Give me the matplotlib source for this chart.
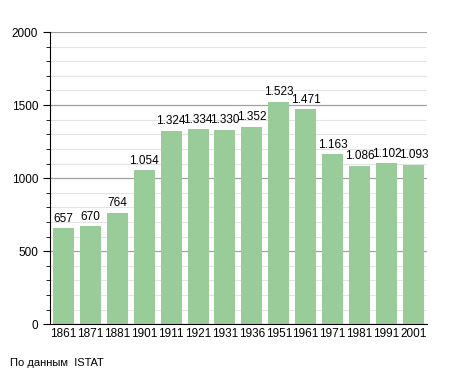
import matplotlib.pyplot as plt
from matplotlib.ticker import MultipleLocator

years = ['1861', '1871', '1881', '1901', '1911', '1921', '1931',
         '1936', '1951', '1961', '1971', '1981', '1991', '2001']
population = [657, 670, 764, 1054, 1324, 1334, 1330,
              1352, 1523, 1471, 1163, 1086, 1102, 1093]
labels = ['657', '670', '764', '1.054', '1.324', '1.334', '1.330',
          '1.352', '1.523', '1.471', '1.163', '1.086', '1.102', '1.093']

plt.rcParams['font.family'] = ['Liberation Sans', 'DejaVu Sans']

fig = plt.figure(figsize=(4.55, 3.73), dpi=100)
ax = fig.add_axes([0.11, 0.131, 0.828, 0.783])

ax.yaxis.set_major_locator(MultipleLocator(500))
ax.yaxis.set_minor_locator(MultipleLocator(100))
ax.grid(which='major', axis='y', color='#a0a0a0', linewidth=0.9)
ax.grid(which='minor', axis='y', color='#e4e4e4', linewidth=0.8)
ax.set_axisbelow(True)

x = range(len(years))
ax.bar(x, population, width=0.78, color='#99cc99')
for i, v in enumerate(population):
    ax.text(i, v + 25, labels[i], ha='center', va='bottom', fontsize=8.5)

ax.set_xlim(-0.5, len(years) - 0.5)
ax.set_ylim(0, 2000)
ax.set_xticks(list(x))
ax.set_xticklabels(years, fontsize=8.5)
ax.tick_params(axis='x', length=0, pad=3)
ax.tick_params(axis='y', which='major', labelsize=8.5, length=5)
ax.tick_params(axis='y', which='minor', length=3)

for s in ['top', 'right']:
    ax.spines[s].set_visible(False)

fig.text(0.022, 0.02, 'По данным  ISTAT', fontsize=8)

plt.savefig('out.png', dpi=100)
